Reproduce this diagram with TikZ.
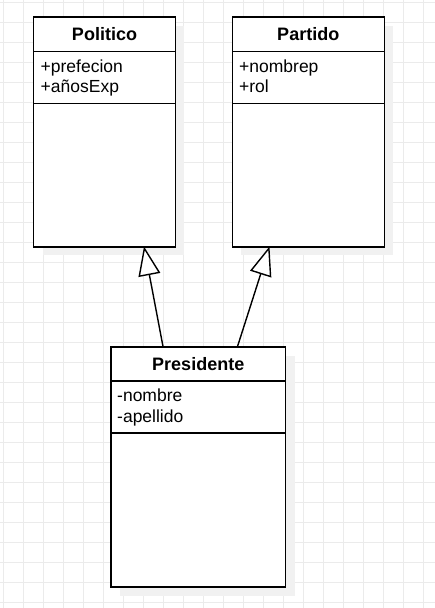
\documentclass[tikz,border=0pt]{standalone}
\usepackage{fontspec}
\setmainfont{Liberation Sans}
\usetikzlibrary{arrows.meta}
\definecolor{gridgray}{HTML}{EBEBEB}
\definecolor{shadowgray}{HTML}{F1F1F1}
\tikzset{
  gridline/.style={line width=1pt, color=gridgray},
  boxshadow/.style={fill=shadowgray},
  classbox/.style={draw=black, fill=white, line width=1.5pt, inner sep=0pt},
  classline/.style={line width=1.2pt, color=black},
  titletext/.style={anchor=base, inner sep=0pt, font=\fontsize{18}{21}\selectfont\bfseries},
  attrtext/.style={anchor=base west, inner sep=0pt, font=\fontsize{17.5}{21}\selectfont},
  inherit/.style={line width=1.4pt, -{Triangle[open, length=29pt, width=22pt, fill=white]}}
}
\begin{document}
\begin{tikzpicture}[x=1pt, y=-1pt]
  %%%%% START %%%%%
  \useasboundingbox (0,0) rectangle (435,608);
  \fill[white] (0,0) rectangle (435,608);

  % grid
  \foreach \x in {3,23,...,423} \draw[gridline] (\x,0) -- (\x,608);
  \foreach \y in {2,22,...,602} \draw[gridline] (0,\y) -- (435,\y);

  % shadows
  \fill[boxshadow] (42.5,25.5) rectangle (184,255);
  \fill[boxshadow] (241,25.5) rectangle (393,255);
  \fill[boxshadow] (120,355.5) rectangle (295,596);

  % Politico
  \node[classbox, minimum width=142pt, minimum height=230pt] (politico) at (104.5,131.75) {};
  \draw[classline] (33.5,51.5) -- (175.5,51.5);
  \draw[classline] (33.5,103.5) -- (175.5,103.5);
  \node[titletext] (politicoName) at (104.5,40) {Politico};
  \node[attrtext] (politicoA1) at (40.5,72.5) {+prefecion};
  \node[attrtext] (politicoA2) at (40.5,92.5) {+añosExp};

  % Partido
  \node[classbox, minimum width=152pt, minimum height=230pt] (partido) at (308.25,131.75) {};
  \draw[classline] (232.25,51.5) -- (384.25,51.5);
  \draw[classline] (232.25,103.5) -- (384.25,103.5);
  \node[titletext] (partidoName) at (308.25,40) {Partido};
  \node[attrtext] (partidoA1) at (239,72.5) {+nombrep};
  \node[attrtext] (partidoA2) at (239,92.5) {+rol};

  % Presidente
  \node[classbox, minimum width=174.5pt, minimum height=240pt] (presidente) at (198.25,466.75) {};
  \draw[classline] (111,381) -- (285.5,381);
  \draw[classline] (111,433) -- (285.5,433);
  \node[titletext] (presidenteName) at (198.25,370) {Presidente};
  \node[attrtext] (presidenteA1) at (117,401.5) {-nombre};
  \node[attrtext] (presidenteA2) at (117,422.5) {-apellido};

  % herencia
  \coordinate (presLeft) at (163,346.5);
  \coordinate (presRight) at (237.5,346.5);
  \coordinate (politicoTip) at (144,246.5);
  \coordinate (partidoTip) at (269.5,246.5);
  \draw[inherit] (presLeft) -- (politicoTip);
  \draw[inherit] (presRight) -- (partidoTip);
  %%%%% END %%%%%
\end{tikzpicture}
\end{document}
